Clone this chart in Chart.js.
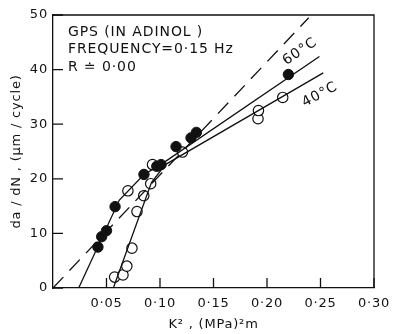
<!DOCTYPE html>
<html>
<head>
<meta charset="utf-8">
<script src="https://cdn.jsdelivr.net/npm/chart.js@4"></script>
<style>
  html, body { margin: 0; padding: 0; background: #fff; }
  #box { width: 398px; height: 334px; }
</style>
</head>
<body>
<div id="box"><canvas id="myChart"></canvas></div>
<script>
// measured points, K^2 (MPa^2 m) vs da/dN (um/cycle)
var k2At60 = [0.042, 0.0455, 0.050, 0.058, 0.085, 0.097, 0.101, 0.115, 0.129, 0.134, 0.220];
var rateAt60 = [7.5, 9.4, 10.5, 14.9, 20.8, 22.3, 22.6, 25.9, 27.5, 28.5, 39.1];

var k2At40 = [0.0576, 0.0654, 0.069, 0.0738, 0.0785, 0.0848, 0.0913, 0.070, 0.093, 0.121, 0.1916, 0.192, 0.2147];
var rateAt40 = [2.0, 2.4, 4.0, 7.3, 14.0, 16.9, 19.1, 17.8, 22.6, 24.9, 31.0, 32.5, 34.9];

// fitted lines
var fit60X = [0.024, 0.062, 0.085, 0.100, 0.249];
var fit60Y = [0, 16.1, 20.8, 22.5, 42.4];
var fit40X = [0.0564, 0.092, 0.105, 0.2526];
var fit40Y = [0, 19.3, 22.6, 39.4];
var dashX = [0, 0.239];
var dashY = [0, 49.5];

var xTicks = [0.05, 0.10, 0.15, 0.20, 0.25, 0.30];
var yTicks = [0, 10, 20, 30, 40, 50];

var noteLines = ['GPS (IN ADINOL )', 'FREQUENCY=0\u00b715 Hz', 'R \u2250 0\u00b700'];

function pts(xs, ys) {
    return xs.map(function (x, i) { return { x: x, y: ys[i] }; });
}

var ink = '#111';
var font = 'DejaVu Sans';

// frame, inward ticks and the text notes
var decor = {
    id: 'decor',
    beforeDraw: function (chart) {
        // the original lettering is spaced out a little
        chart.ctx.letterSpacing = '0.8px';
    },
    afterDraw: function (chart) {
        var ctx = chart.ctx;
        var a = chart.chartArea;
        var xs = chart.scales.x, ys = chart.scales.y;
        ctx.save();
        ctx.strokeStyle = ink;
        ctx.lineWidth = 1.3;
        ctx.beginPath();
        ctx.moveTo(a.left, a.top);
        ctx.lineTo(a.right, a.top);
        ctx.lineTo(a.right, a.bottom);
        ctx.stroke();

        ctx.beginPath();
        xTicks.forEach(function (v) {
            var px = xs.getPixelForValue(v);
            ctx.moveTo(px, a.bottom);
            ctx.lineTo(px, a.bottom - 10);
        });
        yTicks.forEach(function (v) {
            var py = ys.getPixelForValue(v);
            ctx.moveTo(a.left, py);
            ctx.lineTo(a.left + 10, py);
        });
        ctx.stroke();

        ctx.fillStyle = ink;
        ctx.font = '14px "' + font + '"';
        ctx.letterSpacing = '0.9px';
        ctx.textBaseline = 'middle';
        ctx.textAlign = 'left';
        var nx = xs.getPixelForValue(0.014);
        noteLines.forEach(function (t, i) {
            ctx.fillText(t, nx, ys.getPixelForValue(46.9 - i * 3.2));
        });

        function tilted(t, x, y, deg) {
            ctx.save();
            ctx.translate(xs.getPixelForValue(x), ys.getPixelForValue(y));
            ctx.rotate(deg * Math.PI / 180);
            ctx.textAlign = 'center';
            ctx.fillText(t, 0, 0);
            ctx.restore();
        }
        tilted('60\u00b0C', 0.2308, 43.3, -34);
        tilted('40\u00b0C', 0.2495, 35.4, -28);
        ctx.restore();
    }
};

var ctx = document.getElementById('myChart').getContext('2d');

var myChart = new Chart(ctx, {
    type: 'scatter',
    data: {
        datasets: [
            {
                label: 'dashed',
                data: pts(dashX, dashY),
                showLine: true,
                borderColor: ink,
                borderWidth: 1.3,
                borderDash: [15, 9],
                pointRadius: 0
            },
            {
                label: 'fit 60',
                data: pts(fit60X, fit60Y),
                showLine: true,
                borderColor: ink,
                borderWidth: 1.3,
                pointRadius: 0
            },
            {
                label: 'fit 40',
                data: pts(fit40X, fit40Y),
                showLine: true,
                borderColor: ink,
                borderWidth: 1.3,
                pointRadius: 0
            },
            {
                label: '60 C',
                data: pts(k2At60, rateAt60),
                pointRadius: 5.2,
                pointBackgroundColor: ink,
                pointBorderColor: ink,
                pointBorderWidth: 1
            },
            {
                label: '40 C',
                data: pts(k2At40, rateAt40),
                pointRadius: 5.2,
                pointBackgroundColor: '#fff',
                pointBorderColor: ink,
                pointBorderWidth: 1.2
            }
        ]
    },
    plugins: [decor],
    options: {
        responsive: true,
        maintainAspectRatio: false,
        animation: false,
        events: [],
        layout: { padding: { top: 15, right: 24, left: 0, bottom: 0 } },
        plugins: {
            legend: { display: false },
            tooltip: { enabled: false }
        },
        scales: {
            x: {
                type: 'linear',
                min: 0,
                max: 0.3,
                afterFit: function (s) { s.height = 46; },
                grid: { display: false, drawTicks: false },
                border: { display: true, color: ink, width: 1.3 },
                afterBuildTicks: function (s) {
                    s.ticks = [0].concat(xTicks).map(function (v) { return { value: v }; });
                },
                ticks: {
                    color: ink,
                    padding: 8,
                    maxRotation: 0,
                    font: { family: font, size: 13 },
                    callback: function (v) {
                        return v === 0 ? '' : v.toFixed(2).replace('.', '\u00b7');
                    }
                },
                title: {
                    display: true,
                    text: 'K\u00b2 , (MPa)\u00b2m',
                    color: ink,
                    font: { family: font, size: 13 },
                    padding: { top: 0, bottom: 2 }
                }
            },
            y: {
                type: 'linear',
                min: 0,
                max: 50,
                afterFit: function (s) { s.width = 53; },
                grid: { display: false, drawTicks: false },
                border: { display: true, color: ink, width: 1.3 },
                afterBuildTicks: function (s) {
                    s.ticks = yTicks.map(function (v) { return { value: v }; });
                },
                ticks: {
                    color: ink,
                    padding: 5,
                    font: { family: font, size: 13 }
                },
                title: {
                    display: true,
                    text: 'da / dN , (\u03bcm / cycle)',
                    color: ink,
                    font: { family: font, size: 13 },
                    padding: { top: 9, bottom: 0 }
                }
            }
        }
    }
});
</script>
</body>
</html>
